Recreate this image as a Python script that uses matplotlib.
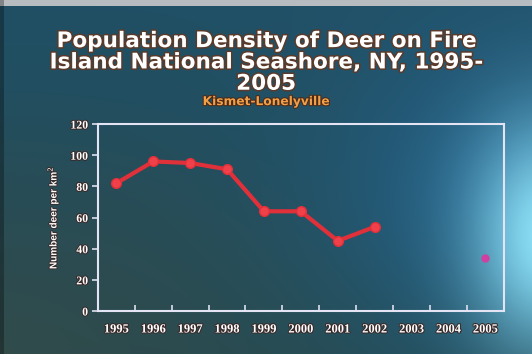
import numpy as np
import matplotlib
matplotlib.use("Agg")
import matplotlib.pyplot as plt
import matplotlib.patheffects as pe

# data
YEARS = ["1995", "1996", "1997", "1998", "1999", "2000", "2001", "2002", "2003", "2004", "2005"]
LINE_YEARS = ["1995", "1996", "1997", "1998", "1999", "2000", "2001", "2002"]
LINE_DENSITY = [82, 96, 95, 91, 64, 64, 45, 54]
LATE_YEARS = ["2005"]
LATE_DENSITY = [34]
Y_TICKS = [0, 20, 40, 60, 80, 100, 120]

TITLE = "Population Density of Deer on Fire\nIsland National Seashore, NY, 1995-\n2005"
SUBTITLE = "Kismet-Lonelyville"
Y_LABEL = "Number deer per km$^2$"

fig = plt.figure(figsize=(5.32, 3.54), dpi=100)

# background: dark teal slide, blue wash to the right, bright glow on the edge
bg = fig.add_axes([0, 0, 1, 1])
h, w = 354, 532
yy, xx = np.mgrid[0:h, 0:w]
base = np.array([0.14, 0.29, 0.32])
top_tint = np.array([0.12, 0.33, 0.45])
t = (1 - yy / h)[..., None]
img = base * (1 - t * 0.6) + top_tint * t * 0.6
lowleft = np.clip(1 - np.hypot(xx / w, (h - yy) / h) * 1.3, 0, 1)[..., None]
img = img * (1 - 0.45 * lowleft) + np.array([0.26, 0.30, 0.26]) * 0.45 * lowleft
wash = np.exp(-np.hypot((xx - 540) / 200.0, (yy - 200) / 160.0) ** 2)[..., None]
img = img * (1 - 0.6 * wash) + np.array([0.15, 0.45, 0.68]) * 0.6 * wash
d = np.hypot((xx - 548) / 75.0, (yy - 235) / 110.0)
glow = np.exp(-d ** 2)[..., None]
img = img * (1 - glow) + np.array([0.55, 0.88, 0.97]) * glow
img[:6] = [0.72, 0.74, 0.76]
img[:, :4] = img[:, :4] * 0.7
bg.imshow(np.clip(img, 0, 1), aspect="auto", extent=[0, 1, 0, 1], zorder=0)
bg.axis("off")

shadow = [pe.withStroke(linewidth=2.2, foreground="#5a3a2a")]
fig.text(0.5, 0.912, TITLE, ha="center", va="top", color="white",
         fontsize=15.5, fontweight="bold", family="DejaVu Sans",
         linespacing=1.08, path_effects=shadow)
fig.text(0.5, 0.713, SUBTITLE, ha="center", va="center", color="#f2a048",
         fontsize=8.8, fontweight="bold", family="DejaVu Sans",
         path_effects=[pe.withStroke(linewidth=1.5, foreground="#4a2a1a")])

ax = fig.add_axes([0.184, 0.1215, 0.763, 0.528])
ax.set_facecolor("none")
xpos = {y: i for i, y in enumerate(YEARS)}

ax.plot([xpos[y] for y in LINE_YEARS], LINE_DENSITY, color="#e0303a", lw=3,
        marker="o", ms=7, mfc="#f0404a", mec="#e0303a", solid_capstyle="round")
ax.plot([xpos[y] for y in LATE_YEARS], LATE_DENSITY, ls="none", marker="o",
        ms=5, color="#d040a0")

ax.set_xlim(-0.5, len(YEARS) - 0.5)
ax.set_ylim(0, 120)
ax.set_yticks(Y_TICKS)
ax.set_xticks([i - 0.5 for i in range(len(YEARS) + 1)], minor=False)
ax.set_xticklabels([])
ax.set_xticks(range(len(YEARS)), minor=True)
ax.set_xticklabels(YEARS, minor=True)
ax.tick_params(axis="x", which="minor", length=0, pad=9, colors="white",
               labelsize=9)
ax.tick_params(axis="x", which="major", length=4, direction="in",
               color="#dde0f0", width=1.2)
ax.tick_params(axis="y", length=4, color="#dde0f0", width=1.2, labelsize=8.5,
               labelcolor="white", pad=3)
for lab in ax.get_xticklabels(minor=True) + ax.get_yticklabels():
    lab.set_family("Liberation Serif")
    lab.set_fontweight("bold")
    lab.set_path_effects([pe.withStroke(linewidth=1.5, foreground="#3a2a2a")])
for s in ax.spines.values():
    s.set_color("#e4e4f4")
    s.set_linewidth(1.5)

ax.set_ylabel(Y_LABEL, color="white", fontsize=7.2, fontweight="bold",
              family="Liberation Sans", labelpad=7,
              path_effects=[pe.withStroke(linewidth=1.3, foreground="#3a2a2a")])

fig.savefig("out.png", dpi=100)
